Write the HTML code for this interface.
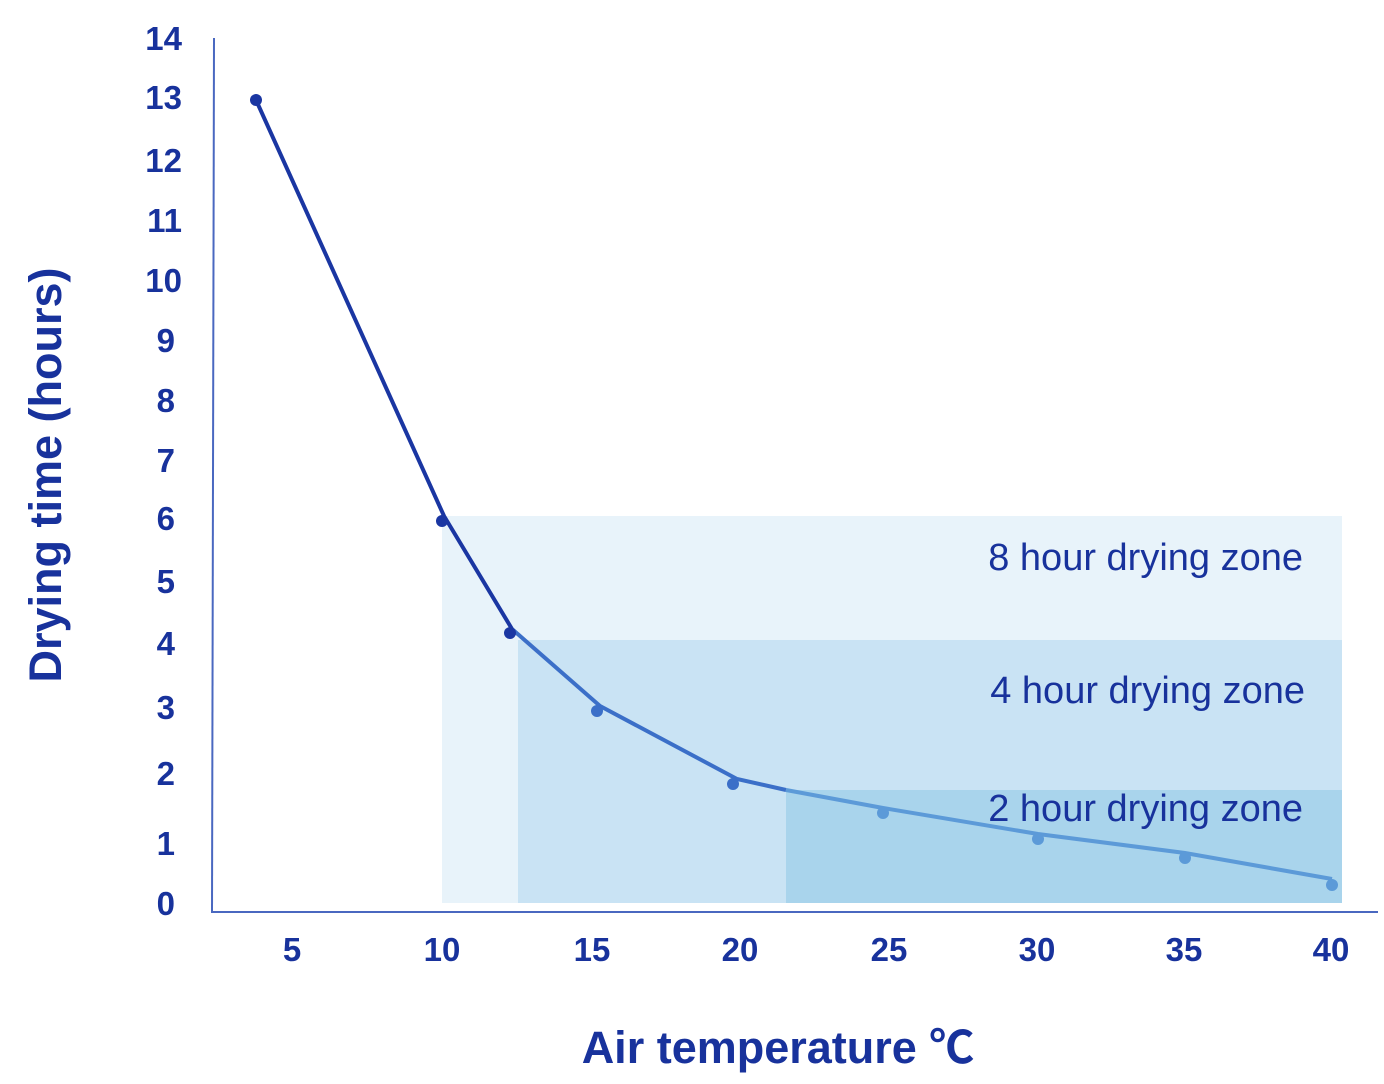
<!DOCTYPE html>
<html><head><meta charset="utf-8"><style>
html,body{margin:0;padding:0;background:#fff;}
svg{display:block;}
text{font-family:"Liberation Sans","Noto Sans CJK SC",sans-serif;}
</style></head><body>
<svg width="1384" height="1084" viewBox="0 0 1384 1084" xmlns="http://www.w3.org/2000/svg">
<rect x="442" y="516" width="900" height="387" fill="#e8f3fa"/>
<rect x="518" y="640" width="824" height="263" fill="#c9e3f4"/>
<rect x="786" y="790" width="556" height="113" fill="#a9d4ec"/>
<line x1="214" y1="38" x2="212" y2="912" stroke="#4a68c0" stroke-width="2"/>
<line x1="211" y1="912" x2="1378" y2="912" stroke="#4a68c0" stroke-width="2"/>
<g fill="#18329c" font-weight="bold" font-size="33" text-anchor="end">
<text x="182" y="50">14</text><text x="182" y="109">13</text><text x="182" y="172">12</text>
<text x="182" y="232">11</text><text x="182" y="292">10</text><text x="175" y="352">9</text>
<text x="175" y="412">8</text><text x="175" y="472">7</text><text x="175" y="530">6</text>
<text x="175" y="593">5</text><text x="175" y="655">4</text><text x="175" y="719">3</text>
<text x="175" y="785">2</text><text x="175" y="855">1</text><text x="175" y="915">0</text>
</g>
<g fill="#18329c" font-weight="bold" font-size="33" text-anchor="middle">
<text x="292" y="961">5</text><text x="442" y="961">10</text><text x="592" y="961">15</text>
<text x="740" y="961">20</text><text x="889" y="961">25</text><text x="1037" y="961">30</text>
<text x="1184" y="961">35</text><text x="1331" y="961">40</text>
</g>
<text x="778" y="1063" fill="#18329c" font-weight="bold" font-size="45" text-anchor="middle">Air temperature ℃</text>
<text transform="translate(61,475) rotate(-90)" fill="#18329c" font-weight="bold" font-size="45" text-anchor="middle">Drying time (hours)</text>
<g fill="#18329c" font-size="38" text-anchor="end">
<text x="1303" y="570">8 hour drying zone</text>
<text x="1305" y="703">4 hour drying zone</text>
<text x="1303" y="821">2 hour drying zone</text>
</g>
<polyline points="256,100 444,516 512,629" fill="none" stroke="#1a36a2" stroke-width="4"/>
<polyline points="512,629 600,706 737,779 786,790" fill="none" stroke="#3b6fc8" stroke-width="4"/>
<polyline points="786,790 883,808 1038,834 1185,853 1332,879" fill="none" stroke="#5c9ad8" stroke-width="4"/>
<g fill="#1a36a2"><circle cx="256" cy="100" r="6"/><circle cx="442" cy="521" r="6"/><circle cx="510" cy="633" r="6"/></g>
<g fill="#3b6fc8"><circle cx="597" cy="711" r="6"/><circle cx="733" cy="784" r="6"/></g>
<g fill="#5c9ad8"><circle cx="883" cy="813" r="6"/><circle cx="1038" cy="839" r="6"/><circle cx="1185" cy="858" r="6"/><circle cx="1332" cy="885" r="6"/></g>
</svg>
</body></html>
